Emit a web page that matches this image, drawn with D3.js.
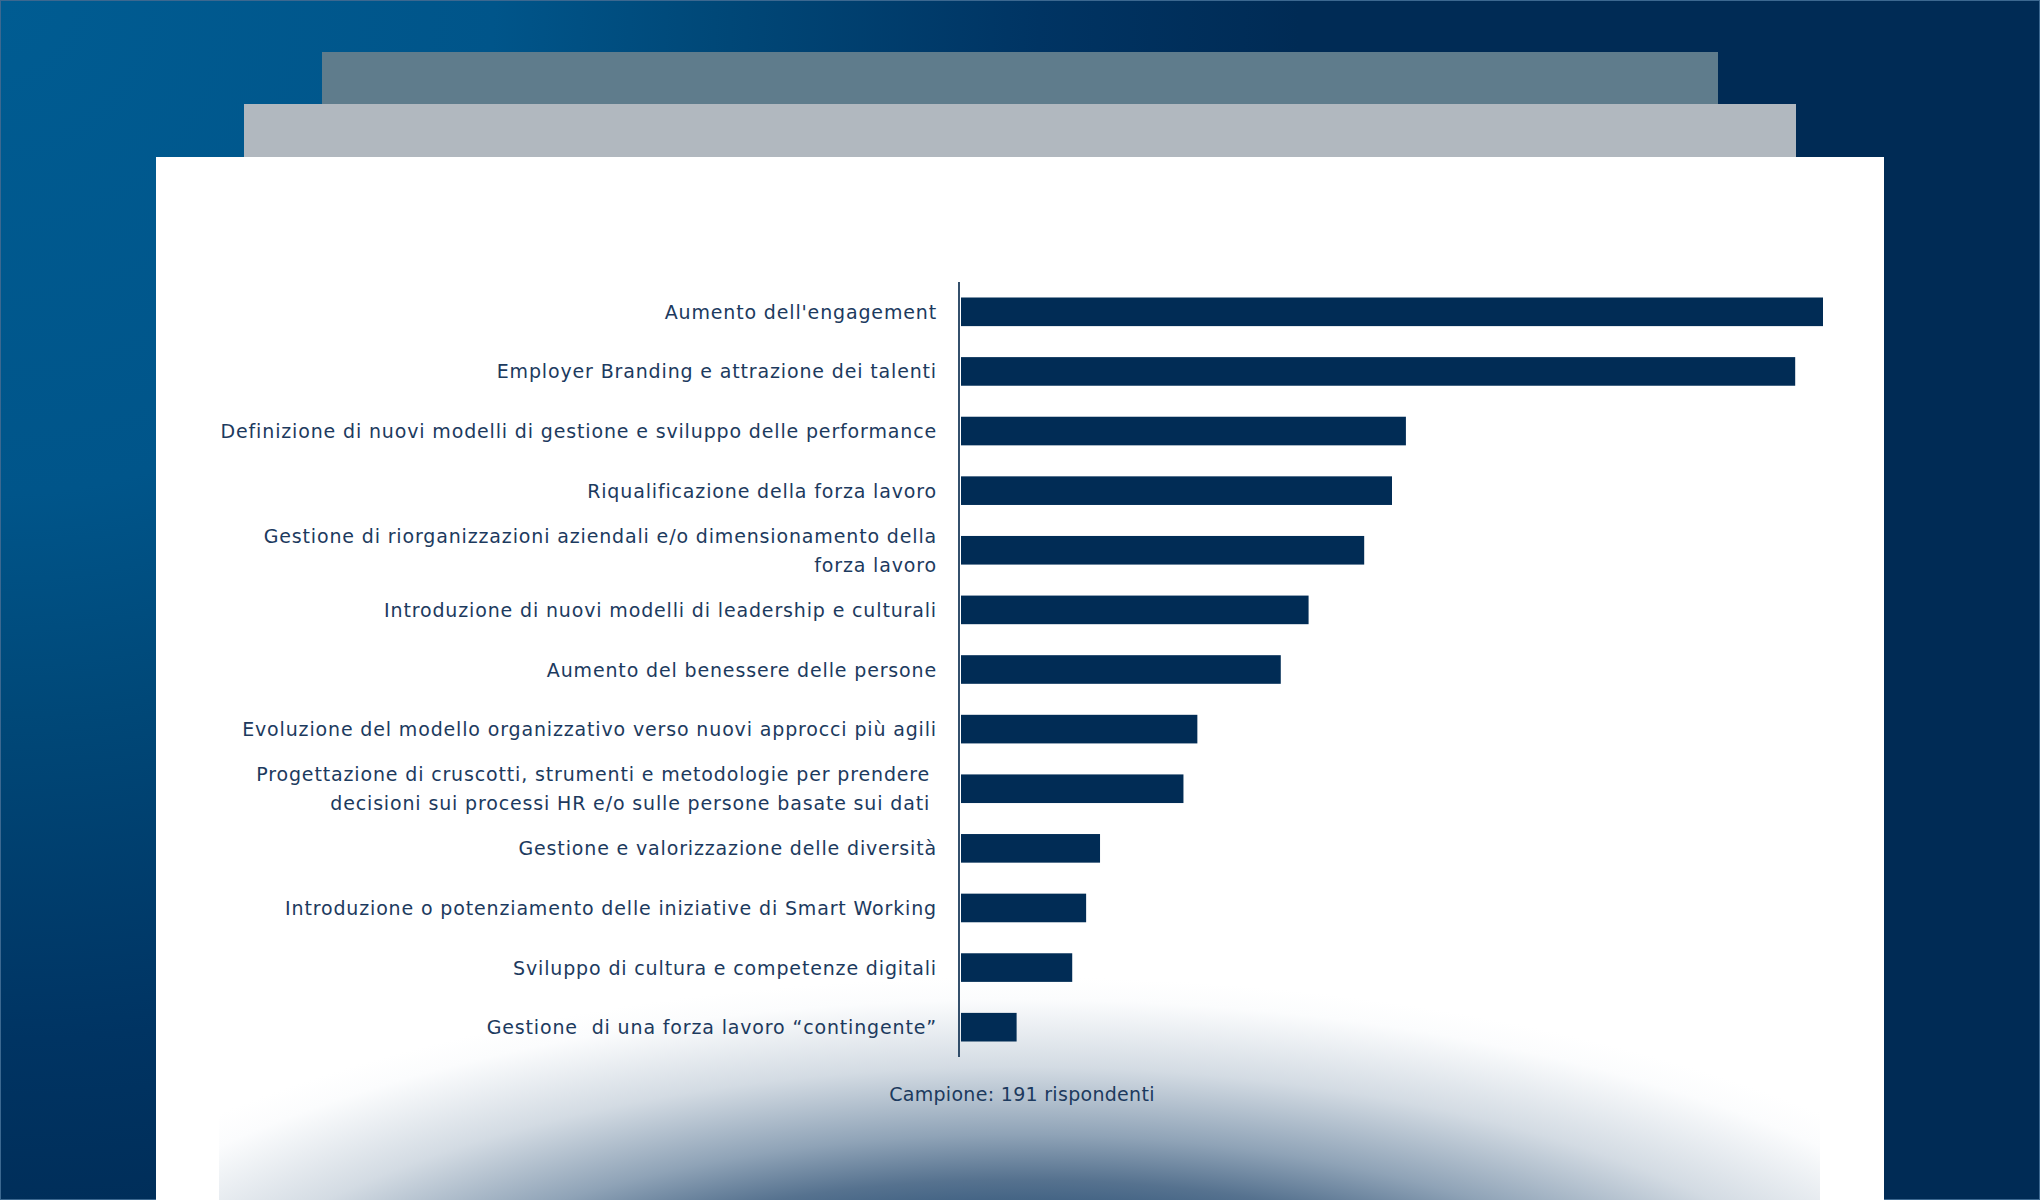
<!DOCTYPE html>
<html>
<head>
<meta charset="utf-8">
<script src="https://cdn.jsdelivr.net/npm/d3@7"></script>
<style>
  html, body { margin: 0; padding: 0; background: #002b55; }
  svg { display: block; }
  text { white-space: pre; }
</style>
</head>
<body>
<svg id="chart" width="2040" height="1200"></svg>
<script>
// ---- data ----
const categories = [
  "Aumento dell'engagement",
  "Employer Branding e attrazione dei talenti",
  "Definizione di nuovi modelli di gestione e sviluppo delle performance",
  "Riqualificazione della forza lavoro",
  "Gestione di riorganizzazioni aziendali e/o dimensionamento della\nforza lavoro",
  "Introduzione di nuovi modelli di leadership e culturali",
  "Aumento del benessere delle persone",
  "Evoluzione del modello organizzativo verso nuovi approcci più agili",
  "Progettazione di cruscotti, strumenti e metodologie per prendere \ndecisioni sui processi HR e/o sulle persone basate sui dati ",
  "Gestione e valorizzazione delle diversità",
  "Introduzione o potenziamento delle iniziative di Smart Working",
  "Sviluppo di cultura e competenze digitali",
  "Gestione  di una forza lavoro “contingente”"
];
const values = [62, 60, 32, 31, 29, 25, 23, 17, 16, 10, 9, 8, 4];
const footnote = "Campione: 191 rispondenti";

// ---- layout ----
const W = 2040, H = 1200;
const svg = d3.select("#chart");
const defs = svg.append("defs");

// background gradient
const bg = defs.append("radialGradient").attr("id", "bgGrad")
  .attr("gradientUnits", "userSpaceOnUse")
  .attr("cx", 0).attr("cy", 0).attr("r", 1300);
[[0, "#005c92"], [0.38, "#00558a"], [0.55, "#004878"], [0.8, "#003463"], [1, "#002b55"]].forEach(s =>
  bg.append("stop").attr("offset", s[0]).attr("stop-color", s[1]));

// bottom haze gradient
const hcx = 1020, hcy = 1427, hrx = 1117, hry = 450;
const hz = defs.append("radialGradient").attr("id", "hazeGrad")
  .attr("gradientUnits", "userSpaceOnUse")
  .attr("cx", hcx).attr("cy", hcy).attr("r", hrx)
  .attr("gradientTransform", `translate(0,${hcy}) scale(1,${hry / hrx}) translate(0,${-hcy})`);
[[0, "#1a3f66"], [0.45, "#2f5479"], [0.55, "#56728f"], [0.65, "#8fa3b7"], [0.8, "#d3dbe3"], [0.95, "#fbfcfd"], [1, "#ffffff"]].forEach(s =>
  hz.append("stop").attr("offset", s[0]).attr("stop-color", s[1]));

svg.append("rect").attr("width", W).attr("height", H).attr("fill", "url(#bgGrad)");
svg.append("rect").attr("x", 0.5).attr("y", 0.5).attr("width", W - 1).attr("height", H - 1)
  .attr("fill", "none").attr("stroke", "#3c6890").attr("stroke-width", 1);

// stacked cards
svg.append("rect").attr("x", 322).attr("y", 52).attr("width", 1396).attr("height", 106).attr("fill", "#5f7c8c");
svg.append("rect").attr("x", 244).attr("y", 104).attr("width", 1552).attr("height", 54).attr("fill", "#b1b8bf");
svg.append("rect").attr("x", 156).attr("y", 157).attr("width", 1728).attr("height", H - 157).attr("fill", "#ffffff");
svg.append("rect").attr("x", 219).attr("y", 960).attr("width", 1601).attr("height", 240).attr("fill", "url(#hazeGrad)");

// scales
const x = d3.scaleLinear().domain([0, 62]).range([961, 1823]);
const y = d3.scaleBand().domain(categories).range([282, 1057]).paddingInner(0.52).paddingOuter(0.26);

// bars
svg.append("g").selectAll("rect").data(categories).join("rect")
  .attr("x", x(0))
  .attr("y", d => y(d))
  .attr("width", (d, i) => x(values[i]) - x(0))
  .attr("height", y.bandwidth())
  .attr("fill", "#012c55");

// axis line
const yAxis = d3.axisLeft(y).tickSize(0).tickFormat("");
const axG = svg.append("g").attr("transform", "translate(959,0)").call(yAxis);
axG.select(".domain").attr("stroke", "#1f3d5c").attr("stroke-width", 1.8).attr("d", "M0,282V1057");

// labels
const labelFont = "'DejaVu Sans', sans-serif";
const lab = svg.append("g").attr("font-family", labelFont).attr("font-size", 19)
  .attr("fill", "#1c3a5e").attr("letter-spacing", 0.85);
categories.forEach((c, i) => {
  const lines = c.split("\n");
  const cy = y(c) + y.bandwidth() / 2;
  const lh = 28.5;
  const t = lab.append("text").attr("text-anchor", "end").attr("dominant-baseline", "central");
  lines.forEach((ln, j) => {
    t.append("tspan").attr("x", 937)
      .attr("y", cy + (j - (lines.length - 1) / 2) * lh)
      .text(ln);
  });
});

// footnote
svg.append("text").attr("x", 1022).attr("y", 1094)
  .attr("text-anchor", "middle").attr("dominant-baseline", "central")
  .attr("font-family", labelFont).attr("font-size", 19).attr("letter-spacing", 0.3)
  .attr("fill", "#1c3a5e").text(footnote);
</script>
</body>
</html>
